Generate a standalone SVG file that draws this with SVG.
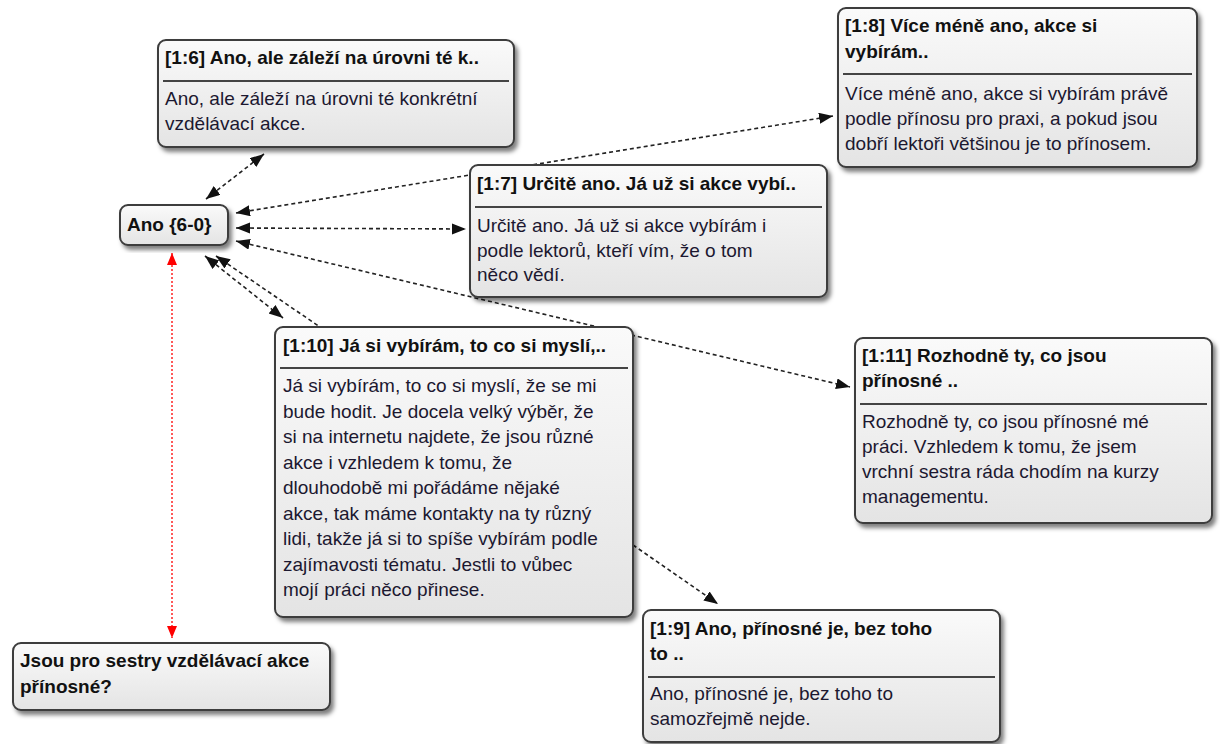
<svg xmlns="http://www.w3.org/2000/svg" width="1220" height="744" viewBox="0 0 1220 744">
<defs>
<linearGradient id="g" x1="0" y1="0" x2="0" y2="1">
<stop offset="0" stop-color="#fafafa"/>
<stop offset="1" stop-color="#e4e4e4"/>
</linearGradient>
<filter id="sh" x="-10%" y="-10%" width="130%" height="130%">
<feDropShadow dx="3" dy="4" stdDeviation="2.2" flood-color="#000" flood-opacity="0.5"/>
</filter>
<marker id="ah" markerUnits="userSpaceOnUse" markerWidth="15" markerHeight="12" refX="14" refY="5.5" orient="auto-start-reverse">
<path d="M0,0 L14,5.5 L0,11 z" fill="#111"/>
</marker>
<marker id="ar" markerUnits="userSpaceOnUse" markerWidth="12" markerHeight="10" refX="12" refY="5" orient="auto-start-reverse">
<path d="M0,0 L12,5 L0,10 z" fill="#f00"/>
</marker>
</defs>
<style>
.box{fill:url(#g);stroke:#3c3c3c;stroke-width:2;filter:url(#sh)}
.sep{stroke:#444;stroke-width:2}
.t{font-family:"Liberation Sans",Arial,sans-serif;font-size:19px;font-weight:bold;fill:#111}
.b{font-family:"Liberation Sans",Arial,sans-serif;font-size:19px;fill:#1c1830}
.c{fill:none;stroke:#222;stroke-width:1.6;stroke-dasharray:4 3}
.r{fill:none;stroke:#f22;stroke-width:1.5;stroke-dasharray:2 2}
</style>
<rect width="1220" height="744" fill="#fff"/>
<g id="connectors">
<line class="c" x1="206" y1="199" x2="264" y2="154" marker-start="url(#ah)" marker-end="url(#ah)"/>
<line class="c" x1="236" y1="213" x2="833" y2="116" marker-start="url(#ah)" marker-end="url(#ah)"/>
<line class="c" x1="236" y1="228" x2="466" y2="229" marker-start="url(#ah)" marker-end="url(#ah)"/>
<line class="c" x1="236" y1="241" x2="850" y2="387" marker-start="url(#ah)" marker-end="url(#ah)"/>
<line class="c" x1="205" y1="256" x2="283" y2="318" marker-start="url(#ah)" marker-end="url(#ah)"/>
<line class="c" x1="216" y1="256" x2="320" y2="327" marker-start="url(#ah)"/>
<line class="c" x1="633" y1="545" x2="718" y2="604" marker-end="url(#ah)"/>
<line class="r" x1="172" y1="253" x2="172" y2="638" marker-start="url(#ar)" marker-end="url(#ar)"/>
</g>
<g id="n16">
<rect class="box" x="158" y="40" width="356" height="107" rx="8"/>
<text class="t" x="165" y="64">[1:6] Ano, ale záleží na úrovni té k..</text>
<line class="sep" x1="163" y1="81" x2="509" y2="81"/>
<text class="b" x="165" y="105">Ano, ale záleží na úrovni té konkrétní</text>
<text class="b" x="165" y="130">vzdělávací akce.</text>
</g>
<g id="ano">
<rect class="box" x="120" y="205" width="108" height="40" rx="8"/>
<text class="t" x="127" y="231">Ano {6-0}</text>
</g>
<g id="n17">
<rect class="box" x="470" y="165" width="357" height="132" rx="8"/>
<text class="t" x="477" y="190">[1:7] Určitě ano. Já už si akce vybí..</text>
<line class="sep" x1="475" y1="207" x2="822" y2="207"/>
<text class="b" x="477" y="232">Určitě ano. Já už si akce vybírám i</text>
<text class="b" x="477" y="257">podle lektorů, kteří vím, že o tom</text>
<text class="b" x="477" y="281">něco vědí.</text>
</g>
<g id="n18">
<rect class="box" x="838" y="8" width="359" height="159" rx="8"/>
<text class="t" x="845" y="32">[1:8] Více méně ano, akce si</text>
<text class="t" x="845" y="58">vybírám..</text>
<line class="sep" x1="843" y1="74" x2="1192" y2="74"/>
<text class="b" x="845" y="100">Více méně ano, akce si vybírám právě</text>
<text class="b" x="845" y="125">podle přínosu pro praxi, a pokud jsou</text>
<text class="b" x="845" y="150">dobří lektoři většinou je to přínosem.</text>
</g>
<g id="n110">
<rect class="box" x="275" y="327" width="358" height="290" rx="8"/>
<text class="t" x="283" y="352">[1:10] Já si vybírám, to co si myslí,..</text>
<line class="sep" x1="280" y1="368" x2="628" y2="368"/>
<text class="b" x="283" y="392">Já si vybírám, to co si myslí, že se mi</text>
<text class="b" x="283" y="417.5">bude hodit. Je docela velký výběr, že</text>
<text class="b" x="283" y="443">si na internetu najdete, že jsou různé</text>
<text class="b" x="283" y="468.5">akce i vzhledem k tomu, že</text>
<text class="b" x="283" y="494">dlouhodobě mi pořádáme nějaké</text>
<text class="b" x="283" y="519.5">akce, tak máme kontakty na ty různý</text>
<text class="b" x="283" y="545">lidi, takže já si to spíše vybírám podle</text>
<text class="b" x="283" y="570.5">zajímavosti tématu. Jestli to vůbec</text>
<text class="b" x="283" y="596">mojí práci něco přinese.</text>
</g>
<g id="n111">
<rect class="box" x="855" y="338" width="357" height="185" rx="8"/>
<text class="t" x="862" y="362">[1:11] Rozhodně ty, co jsou</text>
<text class="t" x="862" y="387">přínosné ..</text>
<line class="sep" x1="860" y1="404" x2="1207" y2="404"/>
<text class="b" x="862" y="428">Rozhodně ty, co jsou přínosné mé</text>
<text class="b" x="862" y="453">práci. Vzhledem k tomu, že jsem</text>
<text class="b" x="862" y="478">vrchní sestra ráda chodím na kurzy</text>
<text class="b" x="862" y="503">managementu.</text>
</g>
<g id="q">
<rect class="box" x="13" y="643" width="317" height="67" rx="8"/>
<text class="t" x="20" y="667">Jsou pro sestry vzdělávací akce</text>
<text class="t" x="20" y="693">přínosné?</text>
</g>
<g id="n19">
<rect class="box" x="643" y="610" width="357" height="132" rx="8"/>
<text class="t" x="650" y="635">[1:9] Ano, přínosné je, bez toho</text>
<text class="t" x="650" y="660">to ..</text>
<line class="sep" x1="648" y1="677" x2="995" y2="677"/>
<text class="b" x="650" y="700">Ano, přínosné je, bez toho to</text>
<text class="b" x="650" y="725">samozřejmě nejde.</text>
</g>
</svg>
